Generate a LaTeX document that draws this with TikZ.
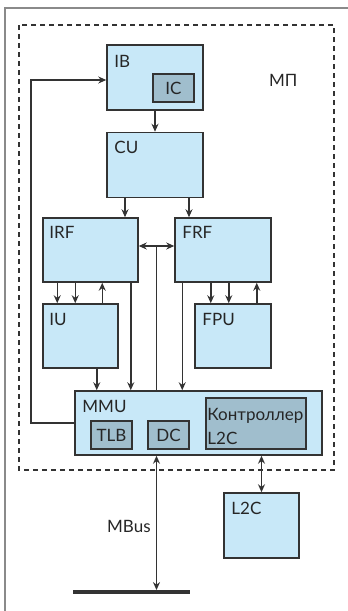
\documentclass[tikz,border=0pt]{standalone}
\usepackage{fontspec}
\setmainfont{Lato}
\usetikzlibrary{arrows.meta,positioning,calc}
\definecolor{boxfill}{HTML}{C8E8F8}
\definecolor{innerfill}{HTML}{A0BECD}
\definecolor{linecol}{HTML}{333333}
\definecolor{framecol}{HTML}{8A8A8A}
\tikzset{
  unitbox/.style={draw=linecol, line width=1.5pt, fill=boxfill, inner sep=0pt},
  innerbox/.style={draw=linecol, line width=1.5pt, fill=innerfill, inner sep=0pt, font=\fontsize{17}{17}\selectfont, text=black!85},
  lbl/.style={anchor=west, inner sep=0pt, font=\fontsize{17}{17}\selectfont, text=black!85},
  conn/.style={draw=linecol, line width=1.5pt, -{Stealth[length=8pt,width=7pt]}},
  dconn/.style={draw=linecol, line width=1.5pt, {Stealth[length=8pt,width=7pt]}-{Stealth[length=8pt,width=7pt]}},
  plain/.style={draw=linecol, line width=1.5pt},
}
\begin{document}
\begin{tikzpicture}[x=1pt,y=-1pt]
\useasboundingbox (0,0) rectangle (348,611);
% outer frame (cut off)
\draw[framecol, line width=1.8pt] (5,611) -- (5,8) -- (348,8);
% processor boundary
\draw[linecol, line width=1.5pt, dash pattern=on 5pt off 4pt] (19,25) rectangle (334,470);
\node[lbl] (mp) at (269,80) {МП};
% boxes
\node[unitbox, minimum width=96pt, minimum height=65pt] (IB) at (155,77.5) {};
\node[innerbox, minimum width=41pt, minimum height=28pt] (IC) at (173.5,88) {IC};
\node[unitbox, minimum width=96pt, minimum height=65pt] (CU) at (155,165) {};
\node[unitbox, minimum width=95pt, minimum height=64pt] (IRF) at (90.5,250) {};
\node[unitbox, minimum width=96pt, minimum height=64pt] (FRF) at (223,250) {};
\node[unitbox, minimum width=75pt, minimum height=64pt] (IU) at (80.5,336) {};
\node[unitbox, minimum width=76pt, minimum height=64pt] (FPU) at (233,336) {};
\node[unitbox, minimum width=247pt, minimum height=64pt] (MMU) at (198.5,423) {};
\node[innerbox, minimum width=41pt, minimum height=28pt] (TLB) at (111.5,435) {TLB};
\node[innerbox, minimum width=41pt, minimum height=28pt] (DC) at (168.5,435) {DC};
\node[innerbox, minimum width=100pt, minimum height=51pt] (L2CC) at (256,423.5) {};
\node[unitbox, minimum width=75pt, minimum height=65pt] (L2C) at (261.5,525.5) {};
\node[fill=linecol, inner sep=0pt, minimum width=117pt, minimum height=3.5pt] (bus) at (131.5,592) {};
% labels
\node[lbl] at ([xshift=8pt,yshift=-17pt]IB.north west) {IB};
\node[lbl] at ([xshift=8pt,yshift=-16pt]CU.north west) {CU};
\node[lbl] at ([xshift=7pt,yshift=-15pt]IRF.north west) {IRF};
\node[lbl] at ([xshift=8pt,yshift=-15pt]FRF.north west) {FRF};
\node[lbl] at ([xshift=7pt,yshift=-16pt]IU.north west) {IU};
\node[lbl] at ([xshift=8pt,yshift=-16pt]FPU.north west) {FPU};
\node[lbl] at ([xshift=8pt,yshift=-16pt]MMU.north west) {MMU};
\node[lbl] at ([xshift=2pt,yshift=-19pt]L2CC.north west) {Контроллер};
\node[lbl] at ([xshift=2pt,yshift=-41pt]L2CC.north west) {L2C};
\node[lbl] at ([xshift=8pt,yshift=-16pt]L2C.north west) {L2C};
\node[lbl] (mbus) at (107,526) {MBus};
% connectors
\draw[conn] (IB.south) -- (CU.north);
\draw[conn] ([xshift=-30pt]CU.south) -- ([xshift=-30pt]CU.south |- IRF.north);
\draw[conn] ([xshift=34pt]CU.south) -- ([xshift=34pt]CU.south |- FRF.north);
\draw[dconn] ([yshift=4pt]IRF.east) -- ([yshift=4pt]FRF.west);
\coordinate (j) at ($([yshift=4pt]IRF.east)!0.5!([yshift=4pt]FRF.west)$);
\draw[plain] (j) -- (j |- MMU.north);
\draw[conn] ([xshift=15pt]IRF.south west) -- ([xshift=15pt]IU.north west);
\draw[conn] ([xshift=33pt]IRF.south west) -- ([xshift=33pt]IU.north west);
\draw[conn] ([xshift=60pt]IU.north west) -- ([xshift=60pt]IRF.south west);
\draw[conn] ([xshift=-61pt]FRF.south east) -- ([xshift=-61pt]FPU.north east);
\draw[conn] ([xshift=-43pt]FRF.south east) -- ([xshift=-43pt]FPU.north east);
\draw[conn] ([xshift=-15pt]FPU.north east) -- ([xshift=-15pt]FRF.south east);
\draw[conn] ([xshift=-8pt]IRF.south east) -- ([xshift=-8pt]IRF.south east |- MMU.north);
\draw[conn] ([xshift=8pt]FRF.south west) -- ([xshift=8pt]FRF.south west |- MMU.north);
\draw[conn] ([xshift=-22pt]IU.south east) -- ([xshift=-22pt]IU.south east |- MMU.north);
\coordinate (fb) at (31,80);
\draw[conn] (MMU.west) -| (fb) -- (fb -| IB.west);
\draw[dconn] (j |- MMU.south) -- (j |- bus.north);
\draw[dconn] (L2C.north |- MMU.south) -- (L2C.north);
\end{tikzpicture}
\end{document}
